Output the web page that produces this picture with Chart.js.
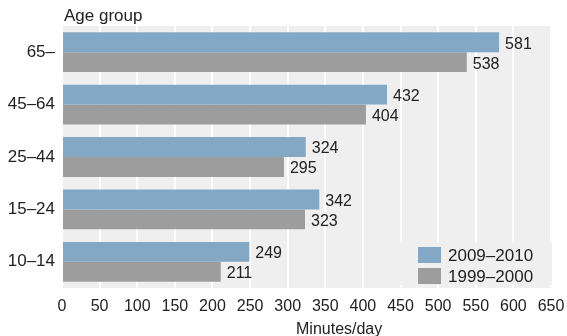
<!DOCTYPE html>
<html>
<head>
<meta charset="utf-8">
<script src="https://cdn.jsdelivr.net/npm/chart.js@4/dist/chart.umd.min.js"></script>
<style>
html,body{margin:0;padding:0;background:#fff;}
#wrap{width:567px;height:336px;position:relative;}
</style>
</head>
<body>
<div id="wrap"><canvas id="c" width="567" height="336"></canvas></div>
<script>
const categories = ['65–', '45–64', '25–44', '15–24', '10–14'];
const seriesNames = ['2009–2010', '1999–2000'];
const values2009 = [581, 432, 324, 342, 249];
const values1999 = [538, 404, 295, 323, 211];
const xTicks = [0, 50, 100, 150, 200, 250, 300, 350, 400, 450, 500, 550, 600, 650];
const yTitle = 'Age group';
const xTitle = 'Minutes/day';

const BLUE = '#82a8c5';
const GRAY = '#9d9d9d';
const BG = '#efefef';
const TXT = '#222222';
const FONT = '"Liberation Sans", Arial, Helvetica, sans-serif';

const bgPlugin = {
  id: 'bg',
  beforeDraw(chart) {
    const {ctx, chartArea: a} = chart;
    ctx.save();
    ctx.fillStyle = BG;
    ctx.fillRect(a.left, a.top, a.right - a.left + 1, a.bottom - a.top);
    ctx.restore();
  }
};

const overlayPlugin = {
  id: 'overlay',
  afterDatasetsDraw(chart) {
    const {ctx, chartArea: a} = chart;
    ctx.save();
    ctx.font = '16px ' + FONT;
    ctx.fillStyle = TXT;
    ctx.textBaseline = 'middle';
    ctx.textAlign = 'left';
    chart.data.datasets.forEach((ds, di) => {
      const meta = chart.getDatasetMeta(di);
      meta.data.forEach((bar, i) => {
        ctx.fillText(String(ds.data[i]), bar.x + 6, bar.y + 2);
      });
    });
    // legend box
    const lx = 396, ly = 242;
    ctx.fillStyle = BG;
    ctx.fillRect(lx, ly, a.right - lx + 1, 43);
    ctx.font = '17px ' + FONT;
    chart.data.datasets.forEach((ds, di) => {
      const y = 247 + di * 21;
      ctx.fillStyle = ds.backgroundColor;
      ctx.fillRect(418, y, 23, 16);
      ctx.fillStyle = TXT;
      ctx.fillText(ds.label, 448, y + 9);
    });
    // titles
    ctx.textBaseline = 'alphabetic';
    ctx.fillStyle = TXT;
    ctx.fillText(yTitle, 64, 21);
    ctx.font = '16px ' + FONT;
    ctx.fillText(xTitle, 296, 334);
    ctx.restore();
  }
};

new Chart(document.getElementById('c'), {
  type: 'bar',
  data: {
    labels: categories,
    datasets: [
      {label: seriesNames[0], data: values2009, backgroundColor: BLUE},
      {label: seriesNames[1], data: values1999, backgroundColor: GRAY}
    ]
  },
  options: {
    indexAxis: 'y',
    responsive: false,
    animation: false,
    devicePixelRatio: 1,
    layout: {padding: {top: 26, right: 16, left: 0, bottom: 0}},
    datasets: {bar: {categoryPercentage: 0.76, barPercentage: 1.0}},
    plugins: {legend: {display: false}, tooltip: {enabled: false}},
    scales: {
      x: {
        min: 0, max: 650,
        afterBuildTicks(scale) { scale.ticks = xTicks.map(v => ({value: v})); },
        afterFit(scale) { scale.height = 48; scale.paddingRight = 0; scale.paddingLeft = 0; },
        grid: {color: '#ffffff', lineWidth: 2, drawTicks: false},
        border: {display: false},
        ticks: {color: TXT, font: {family: FONT, size: 16}, padding: 9, maxRotation: 0, autoSkip: false}
      },
      y: {
        afterFit(scale) { scale.width = 62; scale.paddingTop = 0; scale.paddingBottom = 0; },
        grid: {display: false, drawTicks: false},
        border: {display: false},
        ticks: {color: TXT, font: {family: FONT, size: 17}, padding: 7}
      }
    }
  },
  plugins: [bgPlugin, overlayPlugin]
});
</script>
</body>
</html>
